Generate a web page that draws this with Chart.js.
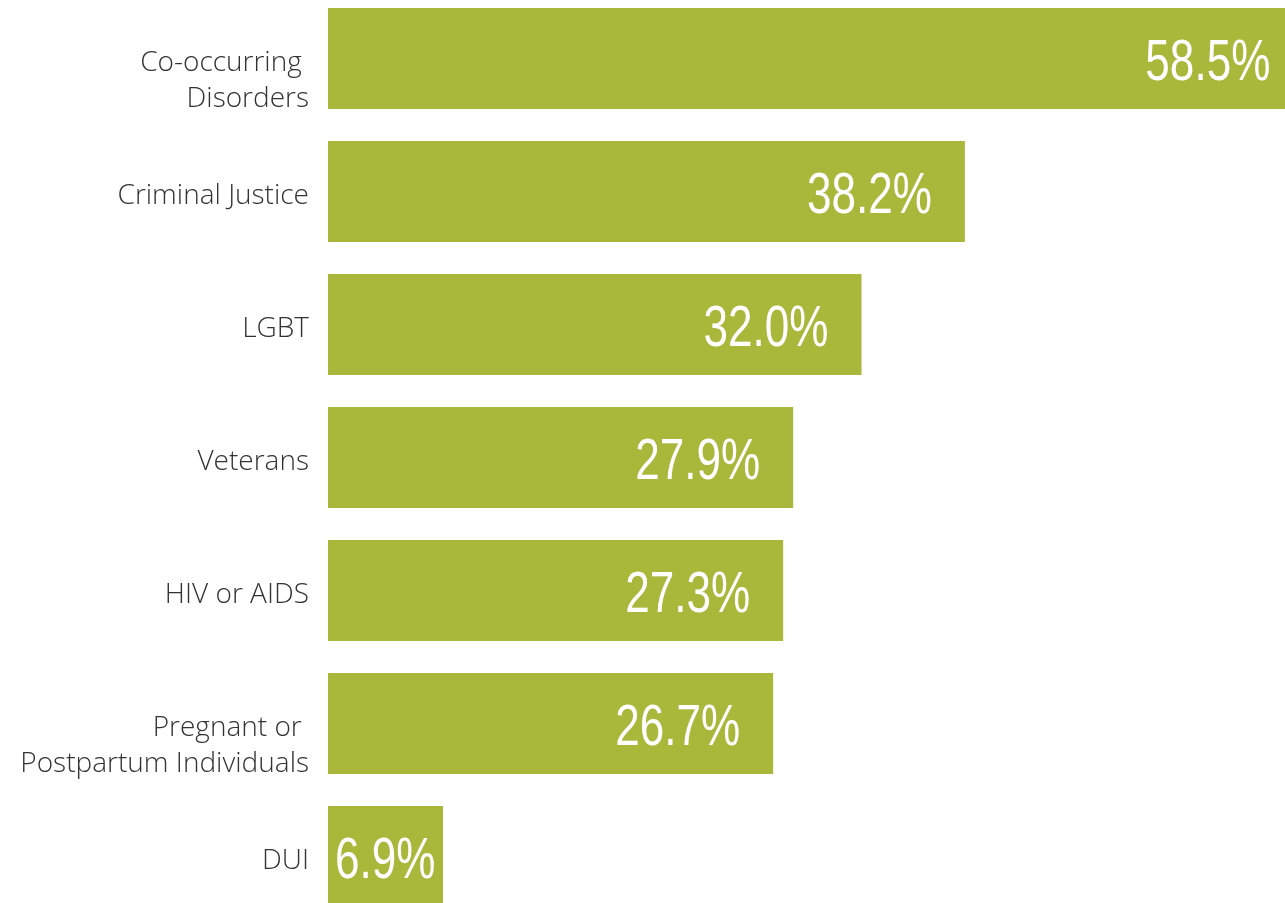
<!DOCTYPE html>
<html>
<head>
<meta charset="utf-8">
<script src="https://cdn.jsdelivr.net/npm/chart.js@4/dist/chart.umd.min.js"></script>
<style>
  html, body { margin: 0; padding: 0; background: #fff; overflow: hidden; }
  body { width: 1285px; height: 903px; position: relative; }
  #wrap { position: absolute; left: 0; top: -8px; width: 1285px; height: 931px; }
</style>
</head>
<body>
<div id="wrap"><canvas id="myChart"></canvas></div>
<script>
const groups = [
    ['', 'Co-occurring ', 'Disorders'],
    'Criminal Justice',
    'LGBT',
    'Veterans',
    'HIV or AIDS',
    ['', 'Pregnant or ', 'Postpartum Individuals'],
    'DUI'
]
const percents = [58.5, 38.2, 32.0, 27.9, 27.3, 26.7, 6.9]

const barColor = '#a9b73a'
const labelColor = '#333333'

// white numbers inside the bars, right side, squeezed like a condensed face
const valueLabels = {
    id: 'valueLabels',
    afterDatasetsDraw(chart) {
        const ctx = chart.ctx
        const meta = chart.getDatasetMeta(0)
        const squeeze = 0.76
        ctx.save()
        ctx.font = '58px "Liberation Sans", Arial, sans-serif'
        ctx.fillStyle = '#ffffff'
        ctx.textBaseline = 'alphabetic'
        ctx.textAlign = 'left'
        meta.data.forEach((bar, i) => {
            const text = percents[i].toFixed(1) + '%'
            const w = ctx.measureText(text).width * squeeze
            let x = bar.x - 33 - w
            if (x < bar.base + 7) x = bar.base + 7
            ctx.save()
            ctx.translate(x, bar.y + 21)
            ctx.scale(squeeze, 1)
            ctx.fillText(text, 0, 0)
            ctx.restore()
        })
        ctx.restore()
    }
}

new Chart(document.getElementById('myChart'), {
    type: 'bar',
    data: {
        labels: groups,
        datasets: [{
            data: percents,
            backgroundColor: barColor,
            borderWidth: 0,
            barPercentage: 0.76,
            categoryPercentage: 1
        }]
    },
    options: {
        indexAxis: 'y',
        responsive: true,
        maintainAspectRatio: false,
        animation: false,
        layout: { padding: 0 },
        plugins: {
            legend: { display: false },
            tooltip: { enabled: false }
        },
        scales: {
            x: {
                display: false,
                min: 0,
                max: 57.4
            },
            y: {
                grid: { display: false, drawTicks: false },
                border: { display: false },
                afterFit(scale) {
                    scale.width = 328
                    scale.paddingTop = 0
                    scale.paddingBottom = 0
                },
                ticks: {
                    padding: 19,
                    labelOffset: 5,
                    color: labelColor,
                    font: { family: '"Open Sans", sans-serif', size: 28, weight: 300, lineHeight: '36px' }
                }
            }
        }
    },
    plugins: [valueLabels]
})
</script>
</body>
</html>
